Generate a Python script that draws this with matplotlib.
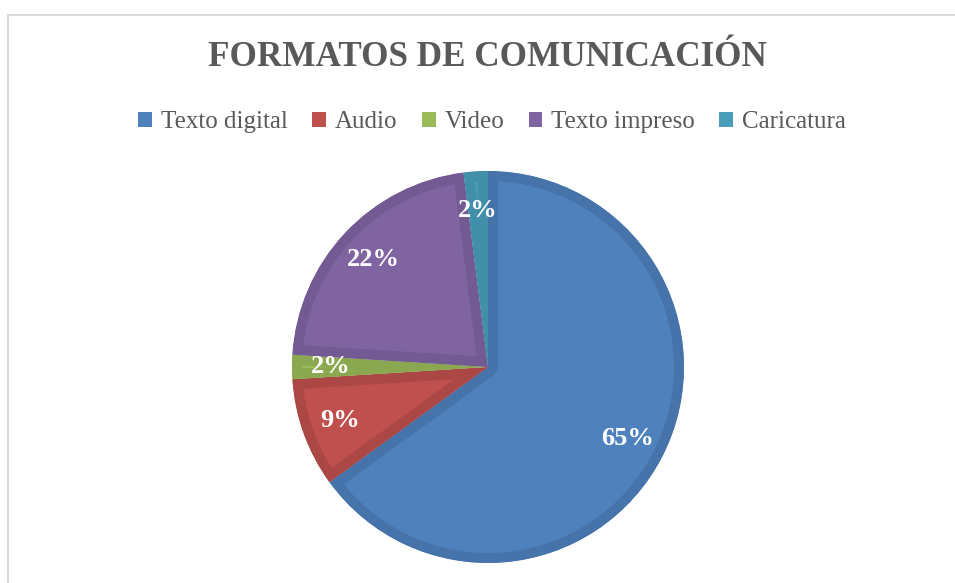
import matplotlib.pyplot as plt
from matplotlib.lines import Line2D
from matplotlib.patches import Patch

# datos del grafico
categorias = ["Texto digital", "Audio", "Video", "Texto impreso", "Caricatura"]
porcentajes = [65, 9, 2, 22, 2]
colores = ["#4F81BD", "#C0504D", "#9BBB59", "#8064A2", "#4A9EBA"]
bordes = ["#4673AA", "#AB4744", "#8AA84F", "#735A92", "#428FA9"]
titulo = "FORMATOS DE COMUNICACIÓN"

plt.rcParams["font.family"] = ["Liberation Serif", "DejaVu Serif"]

W, H = 955, 583
fig = plt.figure(figsize=(W / 100, H / 100), dpi=100)

# marco gris claro (solo se ve arriba y a la izquierda)
fig.add_artist(Line2D([7.5 / W, 7.5 / W], [0, 1 - 14.5 / H], color="#D9D9D9", lw=1.5))
fig.add_artist(Line2D([7.5 / W, 955 / W], [1 - 14.5 / H, 1 - 14.5 / H], color="#D9D9D9", lw=1.5))

# pastel
cx, cy, r = 488, 367, 196
ax = fig.add_axes([(cx - r) / W, (H - cy - r) / H, 2 * r / W, 2 * r / H])
wedges, texts, autotexts = ax.pie(
    porcentajes,
    colors=colores,
    startangle=90,
    counterclock=False,
    radius=1.0,
    autopct="%1.0f%%",
    pctdistance=0.8,
    textprops=dict(color="white", fontsize=19, fontweight="bold"),
)
# borde interior mas oscuro: trazo ancho recortado a la propia cuna
for w, b in zip(wedges, bordes):
    w.set_edgecolor(b)
    w.set_linewidth(14.5)
    w.set_joinstyle("round")
    w.set_clip_path(w)
    w.set_clip_on(True)
ax.set_xlim(-1, 1)
ax.set_ylim(-1, 1)
ax.set_aspect("equal")
ax.axis("off")

# titulo
fig.text(487 / W, 1 - 58 / H, titulo, ha="center", va="center",
         fontsize=25.3, fontweight="bold", color="#595959")

# leyenda
handles = [Patch(facecolor=c, edgecolor="none") for c in colores]
fig.legend(handles, categorias, loc="center", bbox_to_anchor=(492 / W, 1 - 122 / H),
           ncol=5, frameon=False, fontsize=18, labelcolor="#595959",
           handlelength=0.55, handleheight=0.55, handletextpad=0.35, columnspacing=0.98)

fig.savefig("out.png", dpi=100)
